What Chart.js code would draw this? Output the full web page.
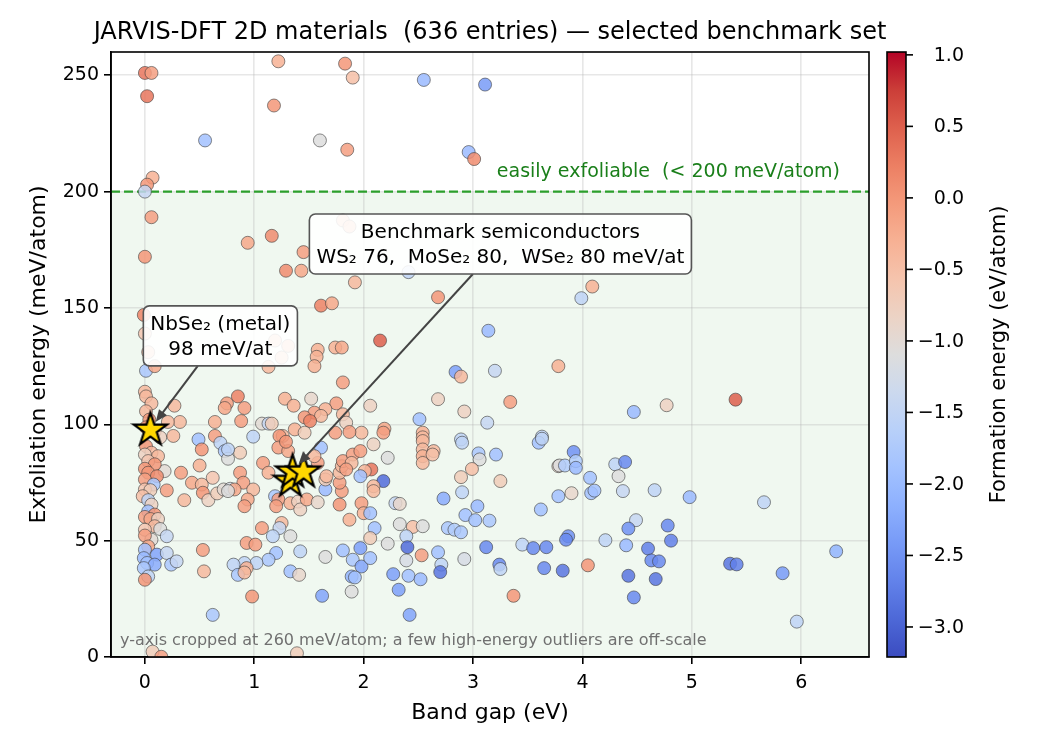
<!DOCTYPE html>
<html>
<head>
<meta charset="utf-8">
<title>JARVIS-DFT 2D materials</title>
<style>
  body { margin: 0; background: #fff; }
  #wrap { width: 1050px; height: 750px; }
</style>
</head>
<body>
<div id="wrap"><canvas id="scatter" width="1050" height="750" style="width:1050px;height:750px"></canvas></div>
<script src="https://cdn.jsdelivr.net/npm/chart.js@4.4.1/dist/chart.umd.min.js"></script>
<script>
// ---- data (band gap eV, exfoliation meV/atom, formation eV/atom)
const bandGap = [
  0.00, 0.06, 0.02, 0.55, 0.07, 0.02, 0.00, 0.06, 1.22, 1.18,
  1.16, 0.94, 1.83, 1.90, 2.55, 3.11, 1.60, 1.85, 2.96, 3.01,
  0.00, -0.01, 0.00, 0.03, 0.01, 0.09, 0.00, 0.01, 0.06, 0.27,
  0.75, 0.73, 0.32, 0.21, 0.64, 1.45, 1.29, 1.43, 1.92, 1.61,
  1.71, 2.15, 1.58, 1.57, 1.74, 1.80, 1.55, 1.81, 0.85, 1.28,
  1.52, 0.91, 1.36, 1.75, 2.06, 1.65, 1.55, 1.61, 1.81, 1.46,
  1.51, 0.88, 1.07, 1.13, 1.16, 1.84, 1.98, 1.87, 1.74, 0.99,
  1.37, 1.46, 1.26, 2.41, 2.68, 3.14, 2.84, 2.89, 3.20, 3.78,
  2.68, 3.34, 2.92, 2.51, 3.13, 2.19, 2.18, 2.54, 2.54, 2.89,
  3.63, 4.09, 3.99, 4.47, 4.77, 5.40, 1.13, 1.19, 1.31, 1.25,
  1.81, 1.87, 0.01, 0.04, 0.01, 0.09, 0.14, 0.26, 0.49, 0.52,
  0.64, 0.69, 0.73, 0.76, 0.50, 0.33, 0.18, 0.62, 0.20, 0.43,
  0.52, 0.53, 0.36, 0.58, 0.66, 0.72, 0.78, 0.53, 0.54, 0.62,
  0.07, 0.15, 0.01, 0.06, 0.00, 0.12, 0.03, 0.09, 0.00, 0.03,
  0.11, 0.00, 0.08, 0.00, 0.05, -0.02, 0.03, 0.06, 0.03, 0.09,
  0.00, 0.05, 0.12, 0.09, 0.14, 0.00, 0.20, 0.06, 0.00, 0.03,
  0.00, 0.11, 0.20, -0.01, 0.02, 0.09, 0.24, 0.29, -0.01, 0.03,
  0.00, 1.23, 1.61, 1.22, 1.31, 1.29, 0.87, 0.76, 1.08, 1.13,
  0.87, 0.90, 0.82, 0.99, 0.76, 0.94, 0.91, 1.19, 1.22, 1.20,
  1.33, 1.40, 1.42, 1.48, 1.58, 1.65, 1.65, 1.66, 1.58, 1.55,
  1.78, 1.80, 1.78, 1.78, 1.80, 1.81, 1.90, 1.97, 1.89, 1.84,
  2.07, 2.01, 1.97, 1.98, 2.00, 1.87, 2.06, 2.10, 2.06, 1.07,
  1.25, 1.23, 1.17, 1.33, 0.93, 1.01, 1.20, 1.13, 1.02, 0.91,
  0.81, 0.93, 0.85, 0.91, 1.42, 1.33, 1.41, 1.65, 0.98, 1.62,
  1.39, 1.81, 1.97, 1.90, 1.98, 2.06, 1.89, 1.92, 1.89, 2.09,
  2.22, 2.18, 2.09, 2.09, 2.54, 2.54, 2.54, 2.54, 2.64, 2.63,
  2.90, 3.05, 3.06, 3.21, 2.99, 2.89, 3.25, 2.90, 2.73, 2.29,
  2.33, 3.04, 2.93, 3.02, 3.15, 2.33, 2.45, 2.54, 2.39, 2.77,
  2.83, 2.89, 2.22, 2.40, 2.53, 2.68, 2.39, 2.71, 2.70, 2.92,
  3.12, 2.27, 2.41, 2.52, 2.32, 2.42, 3.24, 3.25, 3.37, 3.45,
  3.55, 3.67, 3.65, 3.60, 3.63, 3.78, 3.78, 3.62, 3.92, 3.79,
  3.84, 3.94, 3.94, 4.07, 4.30, 4.39, 4.33, 3.90, 4.08, 4.11,
  4.37, 4.66, 4.98, 4.49, 4.42, 4.78, 4.81, 3.87, 3.85, 4.21,
  4.40, 4.60, 4.63, 4.70, 3.82, 4.05, 4.42, 4.67, 4.47, 5.66,
  6.32, 5.35, 5.41, 5.83, 5.96
];
const exfEnergy = [
  251, 251, 241, 222, 206, 203, 200, 189, 256, 237,
  181, 178, 255, 249, 248, 246, 222, 218, 217, 214,
  172, 147, 139, 131, 123, 125, 114, 112, 109, 108,
  109, 107, 101, 101, 101, 174, 166, 166, 161, 151,
  152, 136, 132, 129, 133, 133, 125, 118, 112, 111,
  111, 107, 108, 109, 108, 106.5, 105, 103.6, 104.3, 103,
  101.4, 101.4, 100.3, 100.3, 100.3, 100.7, 96.4, 96.7, 96.4, 94.7,
  97.8, 96.4, 95, 165.4, 154.6, 140.2, 122.5, 120.5, 123, 125,
  110.8, 109.6, 105.5, 102.2, 100.7, 98.1, 96.4, 96.4, 94.4, 93.5,
  94.7, 159.2, 154.2, 105.3, 108.2, 110.6, 124.7, 136, 133.7, 128.7,
  187.6, 185, 105.6, 102, 98.7, 97, 94.4, 95, 93.5, 89.2,
  95, 92, 88.5, 85.2, 82.3, 79.2, 79.9, 77, 71.6, 74.9,
  74.1, 70.6, 67.4, 67.4, 70.3, 72, 72.3, 46, 36.8, 18.1,
  2.3, 0.1, 90.6, 87.8, 87, 86.3, 84.2, 82.8, 80.9, 79.2,
  77.7, 76.3, 74.1, 72, 71.7, 69.1, 67.4, 65.5, 62.6, 61.2,
  60.2, 59.3, 59.3, 56.2, 55, 54.7, 51.9, 50.4, 52.2, 47.5,
  46.1, 44, 44.7, 42.5, 40.4, 39.7, 39.7, 41.1, 38.2, 34.6,
  33.2, 95, 90, 90, 88.5, 92.5, 87.8, 89.2, 83.4, 79.2,
  79.2, 74.9, 72, 72, 71.3, 67.7, 64.8, 69.1, 67.7, 64.8,
  66.1, 66.8, 63.4, 67.7, 66.5, 72, 76.3, 77.7, 83.4, 86.3,
  65.5, 71.3, 74.9, 79.2, 82, 84.2, 87, 88.5, 83.4, 80.6,
  80.6, 79.9, 77.7, 66.1, 61.8, 59, 61.8, 55.4, 51.1, 55.4,
  57.6, 55.4, 51.9, 51.9, 49, 48.3, 44.7, 41.8, 40.4, 40.4,
  39.7, 38.2, 35.3, 36.3, 45.4, 36.8, 35.3, 43, 26, 26.3,
  1.6, 45.8, 46.8, 41.8, 38.9, 42.5, 34.6, 34.2, 28.1, 91.4,
  85.6, 75.6, 73.4, 71.3, 92.8, 89.2, 86.3, 83.4, 88.5, 87,
  92.1, 87.5, 84.9, 87, 80.8, 77.3, 75.6, 70.8, 68.1, 66.1,
  65.8, 64.8, 61, 58.8, 58.6, 57.1, 55.9, 56.2, 51.9, 55.4,
  54.7, 53.6, 48.7, 47.2, 43.7, 45, 41.5, 39.7, 36.5, 42.1,
  47.2, 35.6, 34.9, 33.4, 28.9, 18.1, 39.7, 37.8, 26.3, 48.3,
  46.8, 47.2, 38.2, 92.1, 93.8, 82, 69.1, 63.4, 88.1, 82.3,
  82.3, 84.2, 81.3, 77, 82.8, 83.8, 77.7, 70.4, 70.4, 71.5,
  71.3, 71.7, 68.7, 58.8, 55.2, 56.5, 50, 51.9, 50.4, 50.2,
  48, 46.6, 41.5, 41.1, 37.1, 39.4, 34.9, 33.5, 25.6, 66.5,
  45.4, 40.1, 39.8, 36, 15.2
];
const formEnergy = [
  0.3, -0.1, 0.3, -1.9, -0.3, 0.0, -1.45, -0.1, -0.3, 0.0,
  0.1, -0.2, 0.0, -0.5, -2.0, -2.4, -1.1, -0.1, -2.0, 0.1,
  0.0, 0.2, -0.6, -0.4, -1.8, -0.2, -0.4, -0.4, -0.4, -0.4,
  -0.1, -0.2, -0.4, -0.4, -0.3, -0.1, 0.1, -0.2, -0.4, 0.2,
  -0.2, 0.5, -0.3, -0.3, -0.3, -0.2, -0.3, -0.1, 0.2, -0.3,
  -0.9, -0.1, -0.3, -0.1, -0.8, -0.3, -0.1, -0.4, -0.4, 0.0,
  0.2, -0.1, -1.0, -1.45, -0.7, -0.8, -0.4, -0.1, -0.1, -1.55,
  -0.3, -0.7, -0.4, -1.55, 0.0, -2.0, -2.35, -0.4, -1.45, -0.3,
  -0.8, -0.1, -0.8, -1.9, -1.45, -0.2, -0.1, -0.3, -0.4, -1.55,
  -1.55, -0.3, -1.55, -2.0, -0.8, 0.5, -0.4, -0.4, -0.3, -0.4,
  -0.4, -0.3, -0.4, 0.0, 0.0, -0.4, -0.8, -0.4, -1.9, 0.0,
  -0.1, -1.55, -1.8, -1.1, -0.3, -0.1, -1.0, -0.6, -0.1, -0.2,
  -0.4, 0.0, -0.4, -0.8, -0.7, -1.0, -1.2, -0.1, -0.4, -1.8,
  -0.7, -0.1, 0.0, -0.4, -0.8, -0.4, -0.6, 0.0, 0.0, 0.0,
  0.1, -0.1, -1.8, -0.6, -0.7, -0.5, -1.55, -0.8, -1.9, 0.0,
  -0.1, -0.2, -0.8, -0.4, -1.1, -0.6, -1.45, -1.0, -0.1, -0.2,
  -1.9, -2.3, -1.45, -2.0, -1.9, -2.2, -1.8, -1.45, -1.8, -1.55,
  0.0, 0.0, -1.9, -0.1, -0.2, 0.0, -0.7, -1.55, -0.1, -0.3,
  -0.1, -0.1, -0.2, -0.4, -1.1, -0.2, -0.1, -1.8, -0.1, -0.1,
  -0.3, -0.8, -0.8, -0.2, -0.9, -2.0, -0.7, -0.4, -0.1, -0.4,
  0.0, -0.1, -0.1, -0.4, -0.4, -0.1, -0.1, -0.1, -0.4, -0.1,
  0.3, -0.4, -1.9, -0.1, -0.3, -0.3, -1.9, -1.9, -0.7, -0.1,
  -0.4, -1.45, -1.55, -1.1, -0.1, -0.1, -1.9, -1.8, -1.55, -1.55,
  -1.55, -0.3, -1.8, -0.4, -1.55, -1.9, -0.9, -1.1, 0.0, -2.3,
  -0.7, -1.9, -2.35, -1.8, -2.3, -1.9, -2.1, -1.9, -1.1, -0.8,
  -1.1, -2.9, -0.4, -0.4, -0.4, -0.4, -0.3, -0.4, -0.4, -0.5,
  -1.55, -1.8, -1.1, -1.9, -0.5, -0.7, -0.7, -1.55, -2.2, -1.45,
  -0.9, -2.0, -1.9, -1.9, -1.8, -1.1, -0.5, -1.1, -1.55, -1.8,
  -1.7, -1.8, -1.1, -2.9, -0.1, -1.9, -1.2, -1.55, -2.8, -1.2,
  -2.6, -2.35, -1.9, -2.0, -2.35, -2.3, -2.6, -1.55, 0.0, -1.55,
  -2.6, -2.6, -2.6, -1.9, -1.55, -0.9, -1.9, -1.9, -2.5, -1.1,
  -1.7, -1.7, -2.0, -1.9, -1.55, -2.6, -1.1, -0.9, -1.9, -1.9,
  -1.45, -1.55, -2.0, -1.45, -2.5, -2.6, -2.7, -2.5, -2.6, -1.55,
  -2.0, -2.7, -2.6, -2.6, -2.8, 0.0, -2.8, -2.8, -2.6, -1.55,
  -2.1, -2.8, -2.7, -2.4, -1.55
];

// benchmark materials (stars)
const starNames = ['NbSe₂', 'WS₂', 'MoSe₂', 'WSe₂'];
const starGap = [0.05, 1.33, 1.35, 1.45];
const starExf = [98, 76, 80, 80];

const xTicks = [0, 1, 2, 3, 4, 5, 6];
const yTicks = [0, 50, 100, 150, 200, 250];
const cbTicks = [1.0, 0.5, 0.0, -0.5, -1.0, -1.5, -2.0, -2.5, -3.0];
const feMin = -3.21, feMax = 1.02;
const exfCut = 200;

const notes = [
  { lines: ['NbSe₂ (metal)', '98 meV/at'], at: [0.69, 138], target: 0 },
  { lines: ['Benchmark semiconductors', 'WS₂ 76,  MoSe₂ 80,  WSe₂ 80 meV/at'], at: [3.25, 177.5], target: 2 }
];

const FONT = '"DejaVu Sans"';

// matplotlib coolwarm
const CW = [[0,59,76,192],[0.0625,77,104,215],[0.125,98,130,234],[0.1875,119,154,247],
  [0.25,141,176,254],[0.3125,163,194,255],[0.375,184,208,249],[0.4375,204,217,238],
  [0.5,221,221,221],[0.5625,236,211,197],[0.625,245,196,173],[0.6875,247,177,148],
  [0.75,244,154,123],[0.8125,236,127,99],[0.875,222,96,77],[0.9375,203,62,56],[1,180,4,38]];

function cmapT(t, alpha) {
  t = Math.min(1, Math.max(0, t));
  for (let i = 1; i < CW.length; i++) {
    if (t <= CW[i][0]) {
      const a = CW[i - 1], b = CW[i], f = (t - a[0]) / (b[0] - a[0]);
      const c = [1, 2, 3].map(k => Math.round(a[k] + f * (b[k] - a[k])));
      return `rgba(${c[0]},${c[1]},${c[2]},${alpha})`;
    }
  }
  return `rgba(180,4,38,${alpha})`;
}
function cmap(v, alpha) {
  return cmapT((v - feMin) / (feMax - feMin), alpha);
}

function starImage(size) {
  const c = document.createElement('canvas');
  c.width = c.height = size;
  const g = c.getContext('2d');
  const cx = size / 2, cy = size / 2 + 1, R = size / 2 - 2.5, r = R * 0.382;
  g.beginPath();
  for (let i = 0; i < 10; i++) {
    const ang = -Math.PI / 2 + i * Math.PI / 5;
    const rr = i % 2 ? r : R;
    g.lineTo(cx + rr * Math.cos(ang), cy + rr * Math.sin(ang));
  }
  g.closePath();
  g.fillStyle = '#ffd700';
  g.fill();
  g.lineWidth = 2.2;
  g.lineJoin = 'miter';
  g.strokeStyle = '#000';
  g.stroke();
  return c;
}

function drawNote(ctx, chart, note) {
  const { x, y } = chart.scales;
  const cx = x.getPixelForValue(note.at[0]);
  const cy = y.getPixelForValue(note.at[1]);
  ctx.font = `20px ${FONT}`;
  const lh = 25;
  const tw = Math.max(...note.lines.map(s => ctx.measureText(s).width));
  const w = tw + 14, h = note.lines.length * lh + 10;
  const bx = cx - w / 2, by = cy - h / 2;

  // arrow (under the box)
  const tx = x.getPixelForValue(starGap[note.target]);
  const ty = y.getPixelForValue(starExf[note.target]);
  const dx = tx - cx, dy = ty - cy;
  const s = Math.min(Math.abs((w / 2) / dx), Math.abs((h / 2) / dy));
  const sx = cx + dx * s, sy = cy + dy * s;
  const len = Math.hypot(tx - sx, ty - sy);
  const ux = (tx - sx) / len, uy = (ty - sy) / len;
  const ex = tx - ux * 9, ey = ty - uy * 9;
  ctx.strokeStyle = '#444';
  ctx.fillStyle = '#444';
  ctx.lineWidth = 2;
  ctx.beginPath();
  ctx.moveTo(sx, sy);
  ctx.lineTo(ex - ux * 10, ey - uy * 10);
  ctx.stroke();
  ctx.beginPath();
  ctx.moveTo(ex, ey);
  ctx.lineTo(ex - ux * 12 - uy * 5, ey - uy * 12 + ux * 5);
  ctx.lineTo(ex - ux * 12 + uy * 5, ey - uy * 12 - ux * 5);
  ctx.closePath();
  ctx.fill();

  // box
  ctx.beginPath();
  ctx.roundRect(bx, by, w, h, 6);
  ctx.fillStyle = 'rgba(255,255,255,0.9)';
  ctx.fill();
  ctx.lineWidth = 1.6;
  ctx.strokeStyle = '#555';
  ctx.stroke();

  ctx.fillStyle = '#000';
  ctx.textAlign = 'center';
  ctx.textBaseline = 'middle';
  note.lines.forEach((line, i) => ctx.fillText(line, cx, by + 5 + lh * (i + 0.5) + 1));
}

const decor = {
  id: 'decor',
  beforeDraw(chart) {
    const { ctx, chartArea: a, scales: { y } } = chart;
    const yc = y.getPixelForValue(exfCut);
    ctx.save();
    ctx.fillStyle = 'rgba(44,160,44,0.07)';
    ctx.fillRect(a.left, yc, a.right - a.left, a.bottom - yc);
    ctx.restore();
  },
  beforeDatasetsDraw(chart) {
    const { ctx, chartArea: a, scales: { y } } = chart;
    const yc = y.getPixelForValue(exfCut);
    ctx.save();
    ctx.strokeStyle = '#2ca02c';
    ctx.lineWidth = 2.2;
    ctx.setLineDash([9, 4]);
    ctx.beginPath();
    ctx.moveTo(a.left, yc);
    ctx.lineTo(a.right, yc);
    ctx.stroke();
    ctx.restore();
  },
  afterDatasetsDraw(chart) {
    const { ctx, chartArea: a, scales: { y } } = chart;
    ctx.save();
    // frame
    ctx.strokeStyle = '#000';
    ctx.lineWidth = 1.6;
    ctx.strokeRect(a.left, a.top, a.right - a.left, a.bottom - a.top);

    // threshold label
    ctx.font = `19px ${FONT}`;
    ctx.fillStyle = '#1a7f1a';
    ctx.textAlign = 'right';
    ctx.textBaseline = 'alphabetic';
    ctx.fillText('easily exfoliable  (< 200 meV/atom)', a.right - 29, y.getPixelForValue(exfCut) - 15);

    // crop note
    ctx.font = `16px ${FONT}`;
    ctx.fillStyle = '#707070';
    ctx.textAlign = 'left';
    ctx.fillText('y-axis cropped at 260 meV/atom; a few high-energy outliers are off-scale', a.left + 9, a.bottom - 12);

    notes.forEach(n => drawNote(ctx, chart, n));

    // title
    ctx.font = `24px ${FONT}`;
    ctx.fillStyle = '#000';
    ctx.textAlign = 'center';
    ctx.textBaseline = 'alphabetic';
    ctx.fillText('JARVIS-DFT 2D materials  (636 entries) — selected benchmark set', (a.left + a.right) / 2, a.top - 13);

    // colorbar
    const cbL = a.right + 18, cbW = 19, cbT = a.top, cbB = a.bottom;
    const grad = ctx.createLinearGradient(0, cbT, 0, cbB);
    CW.forEach(s => grad.addColorStop(1 - s[0], `rgb(${s[1]},${s[2]},${s[3]})`));
    ctx.fillStyle = grad;
    ctx.fillRect(cbL, cbT, cbW, cbB - cbT);
    ctx.lineWidth = 1.6;
    ctx.strokeStyle = '#000';
    ctx.strokeRect(cbL, cbT, cbW, cbB - cbT);
    ctx.font = `19px ${FONT}`;
    ctx.fillStyle = '#000';
    ctx.textAlign = 'right';
    ctx.textBaseline = 'middle';
    cbTicks.forEach(v => {
      const py = cbT + (feMax - v) / (feMax - feMin) * (cbB - cbT);
      ctx.beginPath();
      ctx.moveTo(cbL + cbW, py);
      ctx.lineTo(cbL + cbW + 7, py);
      ctx.stroke();
      ctx.fillText(v.toFixed(1).replace('-', '\u2212'), 964, py + 1);
    });
    ctx.save();
    ctx.translate(1000, (cbT + cbB) / 2);
    ctx.rotate(-Math.PI / 2);
    ctx.font = `21px ${FONT}`;
    ctx.textAlign = 'center';
    ctx.fillText('Formation energy (eV/atom)', 0, 0);
    ctx.restore();
    ctx.restore();
  }
};

const points = bandGap.map((g, i) => ({ x: g, y: exfEnergy[i] }));
const stars = starGap.map((g, i) => ({ x: g, y: starExf[i] }));
const starImg = starImage(40);

new Chart(document.getElementById('scatter'), {
  type: 'scatter',
  data: {
    datasets: [
      {
        label: 'materials',
        data: points,
        order: 1,
        clip: 0,
        pointRadius: 6.5,
        pointBackgroundColor: formEnergy.map(f => cmap(f, 0.85)),
        pointBorderColor: 'rgba(60,60,60,0.75)',
        pointBorderWidth: 0.8
      },
      {
        label: 'benchmarks',
        data: stars,
        order: 0,
        pointStyle: starImg,
        pointRadius: 18
      }
    ]
  },
  options: {
    responsive: false,
    animation: false,
    devicePixelRatio: 1,
    layout: { padding: { left: 0, right: 181, top: 52, bottom: 0 } },
    plugins: { legend: { display: false }, tooltip: { enabled: false } },
    scales: {
      x: {
        type: 'linear',
        min: -0.31,
        max: 6.62,
        afterBuildTicks: s => { s.ticks = xTicks.map(v => ({ value: v })); },
        afterFit: s => { s.height = 93; },
        ticks: { font: { family: 'DejaVu Sans', size: 19 }, color: '#000', padding: 8, maxRotation: 0 },
        grid: { color: 'rgba(176,176,176,0.3)', lineWidth: 1.6, tickColor: '#000', tickLength: 7, tickWidth: 1.6 },
        border: { color: '#000', width: 1.6 },
        title: { display: true, text: 'Band gap (eV)', color: '#000', font: { family: 'DejaVu Sans', size: 22 }, padding: { top: 0, bottom: 24 } }
      },
      y: {
        type: 'linear',
        min: 0,
        max: 260,
        afterBuildTicks: s => { s.ticks = yTicks.map(v => ({ value: v })); },
        afterFit: s => { s.width = 111; },
        ticks: { font: { family: 'DejaVu Sans', size: 19 }, color: '#000', padding: 5 },
        grid: { color: 'rgba(176,176,176,0.3)', lineWidth: 1.6, tickColor: '#000', tickLength: 7, tickWidth: 1.6 },
        border: { color: '#000', width: 1.6 },
        title: { display: true, text: 'Exfoliation energy (meV/atom)', color: '#000', font: { family: 'DejaVu Sans', size: 22 }, padding: { top: 26, bottom: 0 } }
      }
    }
  },
  plugins: [decor]
});
</script>
</body>
</html>
